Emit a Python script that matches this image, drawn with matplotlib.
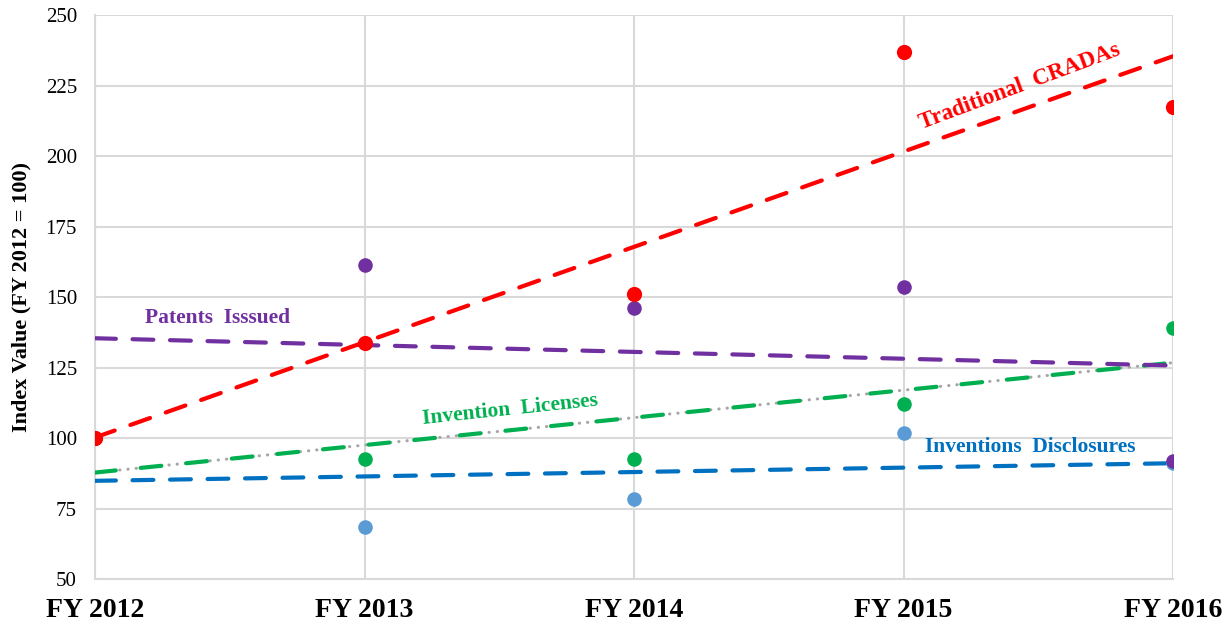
import numpy as np
import matplotlib.pyplot as plt

plt.rcParams['font.family'] = ['Liberation Serif', 'DejaVu Serif']

YEARS = ["FY 2012", "FY 2013", "FY 2014", "FY 2015", "FY 2016"]
CRADAS = [100, 133.7, 151.0, 236.9, 217.4]
PATENTS = [100, 161.3, 146.1, 153.5, 91.8]
LICENSES = [100, 92.6, 92.6, 112.0, 139.0]
DISCLOSURES = [100, 68.4, 78.4, 101.8, 91.1]


def trend(x, y):
    k, b = np.polyfit(x, y, 1)
    return k * np.asarray(x) + b


def main():
    x = np.arange(len(YEARS))
    fig = plt.figure(figsize=(12.28, 6.22), dpi=100)
    ax = fig.add_axes([0.0774, 0.0691, 0.8779, 0.9067])

    # trend lines
    ax.plot(x, trend(x, DISCLOSURES), color="#0070C0", lw=3, dashes=(5, 4),
            dash_capstyle="round", zorder=3)
    ax.plot(x, trend(x, LICENSES), color="#A6A6A6", lw=2.2, dashes=(0.1, 2.6),
            dash_capstyle="round", zorder=3)
    ax.plot(x, trend(x, LICENSES), color="#00B050", lw=3, dashes=(5, 6),
            dash_capstyle="round", zorder=3)
    ax.plot(x, trend(x, PATENTS), color="#7030A0", lw=3, dashes=(5, 4),
            dash_capstyle="round", zorder=3)
    ax.plot(x, trend(x, CRADAS), color="#FF0000", lw=3, dashes=(5, 4),
            dash_capstyle="round", zorder=3)

    # points
    ax.scatter(x, DISCLOSURES, s=110, color="#5B9BD5", zorder=4, linewidths=0)
    ax.scatter(x, LICENSES, s=110, color="#00B050", zorder=4, linewidths=0)
    ax.scatter(x, PATENTS, s=110, color="#7030A0", zorder=4, linewidths=0)
    ax.scatter(x, CRADAS, s=120, color="#FF0000", zorder=5, linewidths=0)

    # labels on the lines
    ax.text(0.186, 142.5, "Patents  Isssued", color="#7030A0", fontsize=15.5,
            fontweight="bold", ha="left", va="center")
    ax.text(1.54, 110, "Invention  Licenses", color="#00B050", fontsize=15.5,
            fontweight="bold", ha="center", va="center", rotation=6)
    ax.text(3.08, 96.8, "Inventions  Disclosures", color="#0070C0", fontsize=15.5,
            fontweight="bold", ha="left", va="center")
    ax.text(3.43, 224.5, "Traditional  CRADAs", color="#FF0000", fontsize=16.5,
            fontweight="bold", ha="center", va="center", rotation=20.5)

    ax.set_xlim(0, 4)
    ax.set_ylim(50, 250)
    ax.set_yticks(np.arange(50, 251, 25))
    ax.set_xticks(x)
    ax.set_xticklabels(YEARS, fontsize=20, fontweight="bold")
    ax.tick_params(axis="y", labelsize=15, length=0, pad=13)
    ax.tick_params(axis="x", length=0, pad=14)
    ax.grid(True, color="#D9D9D9", lw=1.5)
    ax.set_axisbelow(True)
    for s in ["top", "right"]:
        ax.spines[s].set_visible(False)
    for s in ["left", "bottom"]:
        ax.spines[s].set_color("#D9D9D9")
        ax.spines[s].set_linewidth(1.5)
    ax.set_ylabel("Index Value (FY 2012 = 100)", fontsize=16, fontweight="bold",
                  labelpad=10)

    fig.savefig("out.png", dpi=100)


if __name__ == "__main__":
    main()
